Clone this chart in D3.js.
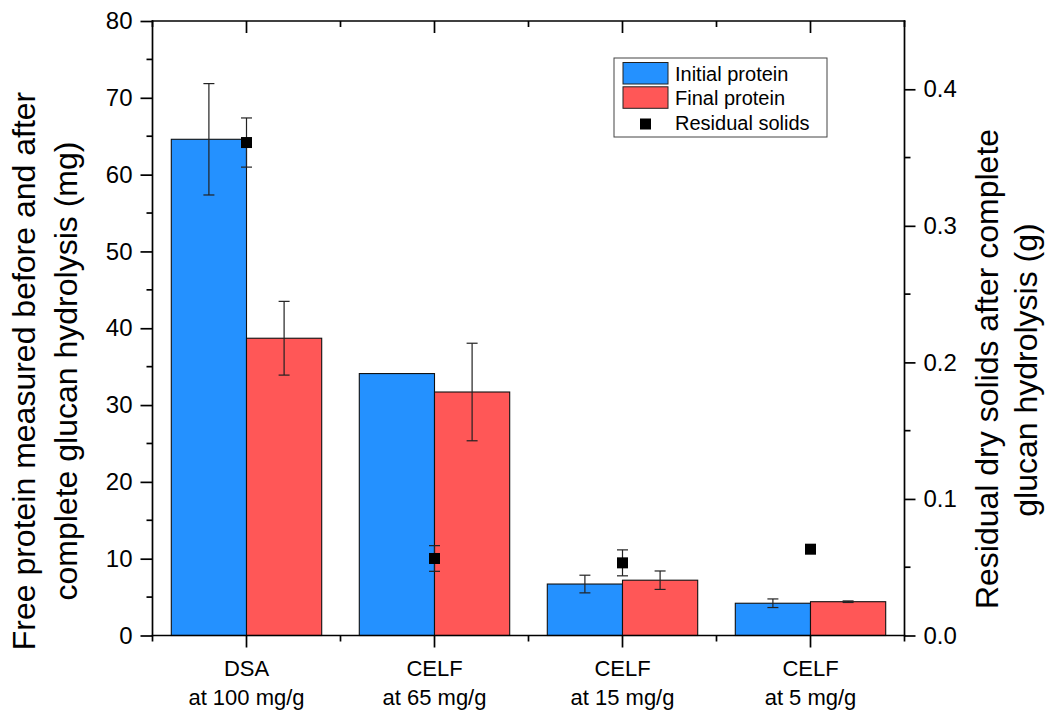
<!DOCTYPE html>
<html>
<head>
<meta charset="utf-8">
<script src="https://cdn.jsdelivr.net/npm/d3@7"></script>
<style>
  html, body { margin: 0; padding: 0; background: #fff; }
  svg { display: block; font-family: "Liberation Sans", Arial, sans-serif; }
</style>
</head>
<body>
<svg id="chart" width="1049" height="715"></svg>
<script>
// Pretreatment conditions (two-line category labels)
const categoryLine1 = ["DSA", "CELF", "CELF", "CELF"];
const categoryLine2 = ["at 100 mg/g", "at 65 mg/g", "at 15 mg/g", "at 5 mg/g"];

// Free protein (mg) before and after complete glucan hydrolysis
const initialProtein = [64.6, 34.1, 6.7, 4.2];
const initialProteinErr = [7.25, 0, 1.15, 0.56];
const finalProtein = [38.7, 31.7, 7.2, 4.4];
const finalProteinErr = [4.8, 6.35, 1.2, 0.1];

// Residual dry solids (g), right axis
const residualSolids = [0.361, 0.0564, 0.0532, 0.0632];
const residualSolidsErr = [0.018, 0.0094, 0.0095, 0.002];

// Axis ticks
const leftTicks = [0, 10, 20, 30, 40, 50, 60, 70, 80];
const leftMinorTicks = [5, 15, 25, 35, 45, 55, 65, 75];
const rightTicks = [0, 0.1, 0.2, 0.3, 0.4];
const rightMinorTicks = [0.05, 0.15, 0.25, 0.35];

const seriesNames = ["Initial protein", "Final protein"];
const seriesColors = ["#2491FF", "#FF5757"];
const legendLabels = ["Initial protein", "Final protein", "Residual solids"];

const leftTitle = ["Free protein measured before and after", "complete glucan hydrolysis (mg)"];
const rightTitle = ["Residual dry solids after complete", "glucan hydrolysis (g)"];

const svg = d3.select("#chart");
const plot = { left: 152.5, right: 904.5, top: 21, bottom: 635.5 };

const cats = d3.range(categoryLine1.length);
const x = d3.scaleBand().domain(cats).range([plot.left, plot.right])
  .paddingInner(0.2).paddingOuter(0.1);
const xSub = d3.scaleBand().domain(seriesNames).range([0, x.bandwidth()]);
const yL = d3.scaleLinear().domain([0, 80]).range([plot.bottom, plot.top]);
const yR = d3.scaleLinear().domain([0, 0.45]).range([plot.bottom, plot.top]);

const axisColor = "#000";
const axisW = 1.7;
const tickFont = 24;
const catFont = 22;

// Bars
const seriesData = [
  { name: seriesNames[0], vals: initialProtein, errs: initialProteinErr, color: seriesColors[0] },
  { name: seriesNames[1], vals: finalProtein, errs: finalProteinErr, color: seriesColors[1] }
];

const barG = svg.append("g");
seriesData.forEach(s => {
  barG.selectAll(null).data(cats).enter().append("rect")
    .attr("x", i => x(i) + xSub(s.name))
    .attr("y", i => yL(s.vals[i]))
    .attr("width", xSub.bandwidth())
    .attr("height", i => yL(0) - yL(s.vals[i]))
    .attr("fill", s.color)
    .attr("stroke", "#111")
    .attr("stroke-width", 1.1);
});

// Error bars for protein
const capW = 11;
function errorBar(g, cx, yTop, yBot) {
  g.append("line").attr("x1", cx).attr("x2", cx).attr("y1", yTop).attr("y2", yBot);
  g.append("line").attr("x1", cx - capW / 2).attr("x2", cx + capW / 2).attr("y1", yTop).attr("y2", yTop);
  g.append("line").attr("x1", cx - capW / 2).attr("x2", cx + capW / 2).attr("y1", yBot).attr("y2", yBot);
}
const errG = svg.append("g").attr("stroke", "#222").attr("stroke-width", 1.2);
seriesData.forEach(s => {
  cats.forEach(i => {
    if (s.errs[i] <= 0) return;
    const cx = x(i) + xSub(s.name) + xSub.bandwidth() / 2;
    errorBar(errG, cx, yL(s.vals[i] + s.errs[i]), yL(s.vals[i] - s.errs[i]));
  });
});

// Residual solids: error bars and square markers on the right axis
const sq = 11;
cats.forEach(i => {
  const cx = x(i) + x.bandwidth() / 2;
  errorBar(errG, cx, yR(residualSolids[i] + residualSolidsErr[i]), yR(residualSolids[i] - residualSolidsErr[i]));
});
svg.append("g").selectAll("rect").data(cats).enter().append("rect")
  .attr("x", i => x(i) + x.bandwidth() / 2 - sq / 2)
  .attr("y", i => yR(residualSolids[i]) - sq / 2)
  .attr("width", sq).attr("height", sq)
  .attr("fill", "#000");

// Frame axes
const axG = svg.append("g").attr("stroke", axisColor).attr("stroke-width", axisW).attr("stroke-linecap", "square");
axG.append("line").attr("x1", plot.left).attr("x2", plot.right).attr("y1", plot.bottom).attr("y2", plot.bottom);
axG.append("line").attr("x1", plot.left).attr("x2", plot.right).attr("y1", plot.top).attr("y2", plot.top);
axG.append("line").attr("x1", plot.left).attr("x2", plot.left).attr("y1", plot.top).attr("y2", plot.bottom);
axG.append("line").attr("x1", plot.right).attr("x2", plot.right).attr("y1", plot.top).attr("y2", plot.bottom);

// Left axis
const leftAxis = d3.axisLeft(yL).tickValues(leftTicks).tickSize(12).tickPadding(8)
  .tickFormat(d3.format("d"));
const gl = svg.append("g").attr("transform", `translate(${plot.left},0)`).call(leftAxis);
gl.selectAll(".tick line").attr("stroke-width", axisW);
gl.append("g").selectAll("line").data(leftMinorTicks).enter().append("line")
  .attr("x1", 0).attr("x2", -6).attr("y1", d => yL(d)).attr("y2", d => yL(d))
  .attr("stroke", axisColor).attr("stroke-width", axisW);

// Right axis
const rightAxis = d3.axisRight(yR).tickValues(rightTicks).tickSize(11).tickPadding(8)
  .tickFormat(d3.format(".1f"));
const gr = svg.append("g").attr("transform", `translate(${plot.right},0)`).call(rightAxis);
gr.selectAll(".tick line").attr("stroke-width", axisW);
gr.append("g").selectAll("line").data(rightMinorTicks).enter().append("line")
  .attr("x1", 0).attr("x2", 6).attr("y1", d => yR(d)).attr("y2", d => yR(d))
  .attr("stroke", axisColor).attr("stroke-width", axisW);

[gl, gr].forEach(g => {
  g.select(".domain").remove();
  g.selectAll(".tick text").attr("font-size", tickFont).attr("fill", "#000")
    .attr("font-family", "Liberation Sans, Arial, sans-serif");
});

// Category ticks: major at group centres, minor at group boundaries (bottom outward, top inward)
const centers = cats.map(i => x(i) + x.bandwidth() / 2);
const bounds = d3.range(categoryLine1.length + 1).map(i => plot.left + i * x.step());
const tG = svg.append("g").attr("stroke", axisColor).attr("stroke-width", axisW);
centers.forEach(c => {
  tG.append("line").attr("x1", c).attr("x2", c).attr("y1", plot.bottom).attr("y2", plot.bottom + 12);
  tG.append("line").attr("x1", c).attr("x2", c).attr("y1", plot.top).attr("y2", plot.top + 12);
});
bounds.forEach(b => {
  tG.append("line").attr("x1", b).attr("x2", b).attr("y1", plot.bottom).attr("y2", plot.bottom + 6);
  tG.append("line").attr("x1", b).attr("x2", b).attr("y1", plot.top).attr("y2", plot.top + 6);
});

// Category labels
const catG = svg.append("g").attr("font-size", catFont).attr("text-anchor", "middle").attr("fill", "#000");
cats.forEach(i => {
  catG.append("text").attr("x", centers[i]).attr("y", 676).text(categoryLine1[i]);
  catG.append("text").attr("x", centers[i]).attr("y", 705).text(categoryLine2[i]);
});

// Axis titles
const titleFont = 32;
const ltG = svg.append("g").attr("font-size", titleFont).attr("text-anchor", "middle").attr("fill", "#000");
ltG.append("text").attr("transform", "translate(35,371) rotate(-90)").text(leftTitle[0]);
ltG.append("text").attr("transform", "translate(77,371) rotate(-90)").text(leftTitle[1]);
ltG.append("text").attr("transform", "translate(998,369) rotate(-90)").text(rightTitle[0]);
ltG.append("text").attr("transform", "translate(1037,370) rotate(-90)").text(rightTitle[1]);

// Legend
const lg = svg.append("g").attr("transform", "translate(614,58)");
lg.append("rect").attr("x", 0).attr("y", 0).attr("width", 213).attr("height", 79)
  .attr("fill", "#fff").attr("stroke", "#444").attr("stroke-width", 1);
seriesColors.forEach((c, k) => {
  lg.append("rect").attr("x", 9).attr("y", 4.5 + k * 24.3).attr("width", 45).attr("height", 21.5)
    .attr("fill", c).attr("stroke", "#222").attr("stroke-width", 1);
});
lg.append("rect").attr("x", 31.5 - sq / 2).attr("y", 66 - sq / 2).attr("width", sq).attr("height", sq).attr("fill", "#000");
legendLabels.forEach((t, k) => {
  lg.append("text").attr("x", 61).attr("y", 22.7 + k * 24.6).attr("font-size", 20).attr("fill", "#000").text(t);
});
</script>
</body>
</html>
